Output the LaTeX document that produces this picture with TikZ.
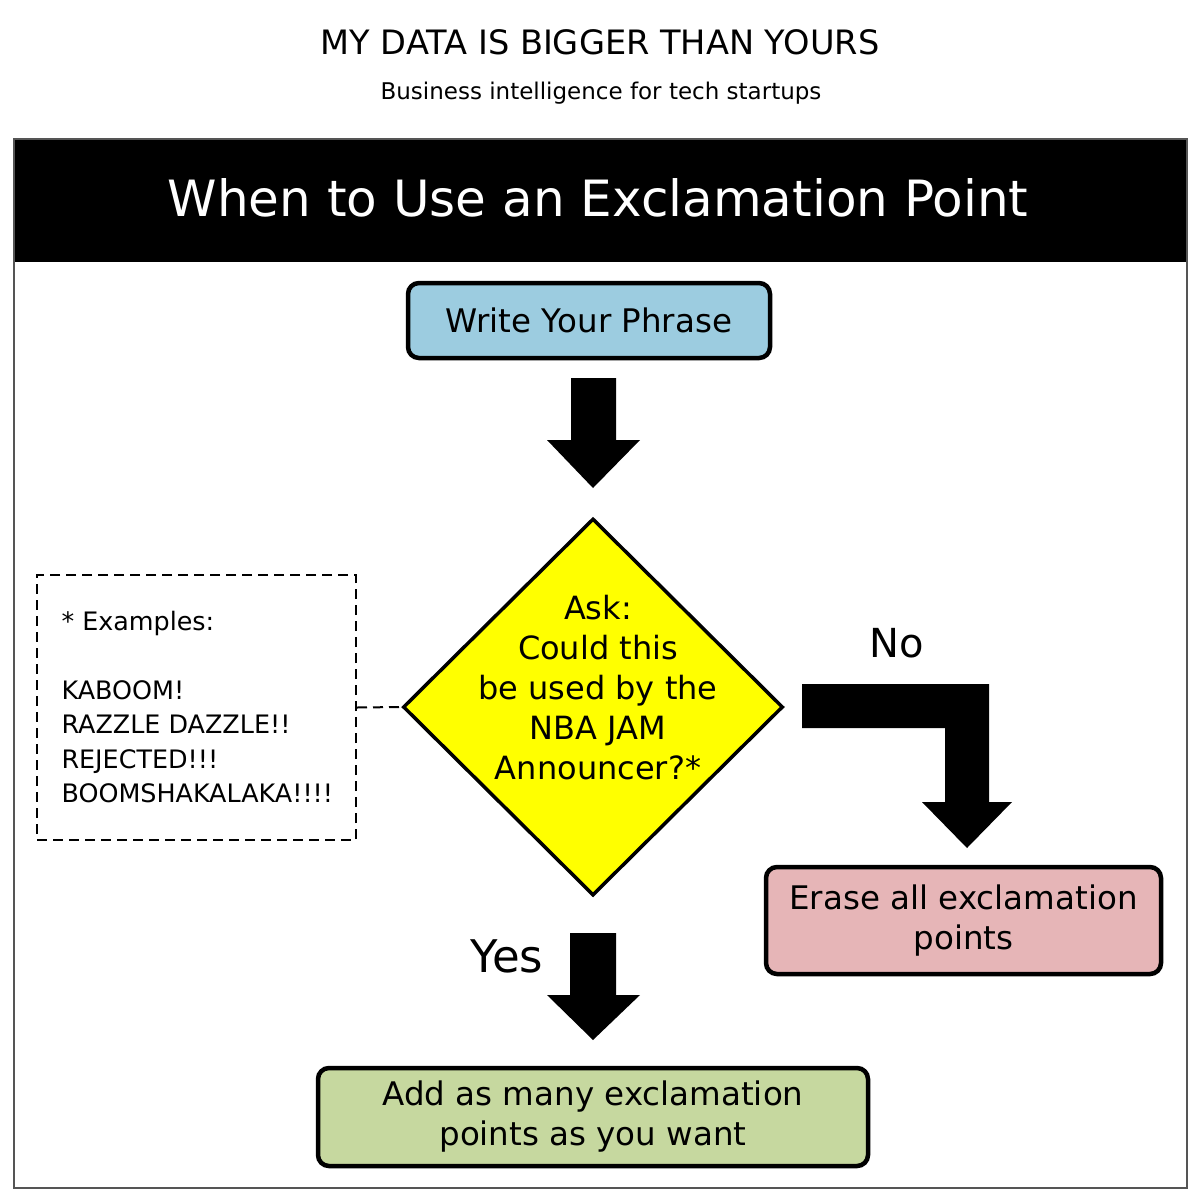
\documentclass[tikz,border=0pt]{standalone}
\usepackage{fontspec}
\setmainfont{DejaVu Sans}
\usetikzlibrary{shapes.geometric}
\definecolor{boxblue}{HTML}{9CCCE0}
\definecolor{boxpink}{HTML}{E6B5B7}
\definecolor{boxgreen}{HTML}{C6D89F}
\definecolor{qyellow}{HTML}{FFFF00}
\definecolor{framegray}{HTML}{555555}
\tikzset{
  stepbox/.style={draw=black, line width=4.5pt, rounded corners=11pt, align=center,
    font=\fontsize{32.5}{40}\selectfont, inner sep=0pt},
  qshape/.style={diamond, draw=black, line width=3.5pt, fill=qyellow, inner sep=0pt},
  qtext/.style={align=center, font=\fontsize{32}{40}\selectfont},
  notebox/.style={draw=black, line width=2pt, dash pattern=on 10pt off 6pt, inner sep=0pt},
  notetext/.style={align=left, font=\fontsize{25.4}{34.4}\selectfont, anchor=west},
  blockarrow/.style={fill=black},
  branchlabel/.style={font=\fontsize{40}{42}\selectfont},
}
\begin{document}
\begin{tikzpicture}[x=1pt,y=-1pt]
\useasboundingbox (0,0) rectangle (1200,1200);
\fill[white] (0,0) rectangle (1200,1200);
% titles
\node[font=\fontsize{33.6}{36}\selectfont] (maintitle) at (600,42) {MY DATA IS BIGGER THAN YOURS};
\node[font=\fontsize{23}{25}\selectfont] (subtitle) at (601,93) {Business intelligence for tech startups};
% frame and header
\draw[framegray, line width=2.5pt, fill=white] (14,139) rectangle (1187,1188);
\fill[black] (15,140) rectangle (1186,262);
\node[white, font=\fontsize{50}{52}\selectfont] (header) at (598,198) {When to Use an Exclamation Point};
% nodes
\node[stepbox, fill=boxblue, minimum width=362pt, minimum height=75pt] (write) at (589,320.5) {Write Your Phrase};
\node[qshape, minimum width=380pt, minimum height=377pt] (q) at (593,707) {};
\node[qtext] (qlabel) at (598,688) {Ask:\\Could this\\be used by the\\NBA JAM\\Announcer?*};
\node[notebox, minimum width=319pt, minimum height=265pt] (ex) at (196.5,707.5) {};
\node[notetext] (extext) at (58,707) {* Examples:\\[34.4pt]KABOOM!\\RAZZLE DAZZLE!!\\REJECTED!!!\\BOOMSHAKALAKA!!!!};
\node[stepbox, fill=boxpink, minimum width=395pt, minimum height=107pt] (erase) at (963.5,920.5) {Erase all exclamation\\points};
\node[stepbox, fill=boxgreen, minimum width=550pt, minimum height=98pt] (add) at (593,1117) {Add as many exclamation\\points as you want};
% connectors
\draw[black, line width=2pt, dash pattern=on 10pt off 6pt] (ex.east) -- (q.west);
\fill[blockarrow] (571,378) -- (616,378) -- (616,440) -- (640,440) -- (593,488) -- (547,440) -- (571,440) -- cycle;
\fill[blockarrow] (570,933) -- (616,933) -- (616,995) -- (640,995) -- (593,1040) -- (547,995) -- (570,995) -- cycle;
\fill[blockarrow] (802,684) -- (989,684) -- (989,802) -- (1012,802) -- (967,848) -- (922,802) -- (945,802) -- (945,728) -- (802,728) -- cycle;
\node[branchlabel] (nolabel) at (897,643) {No};
\node[branchlabel, font=\fontsize{45}{47}\selectfont] (yeslabel) at (507,956) {Yes};
\end{tikzpicture}
\end{document}
